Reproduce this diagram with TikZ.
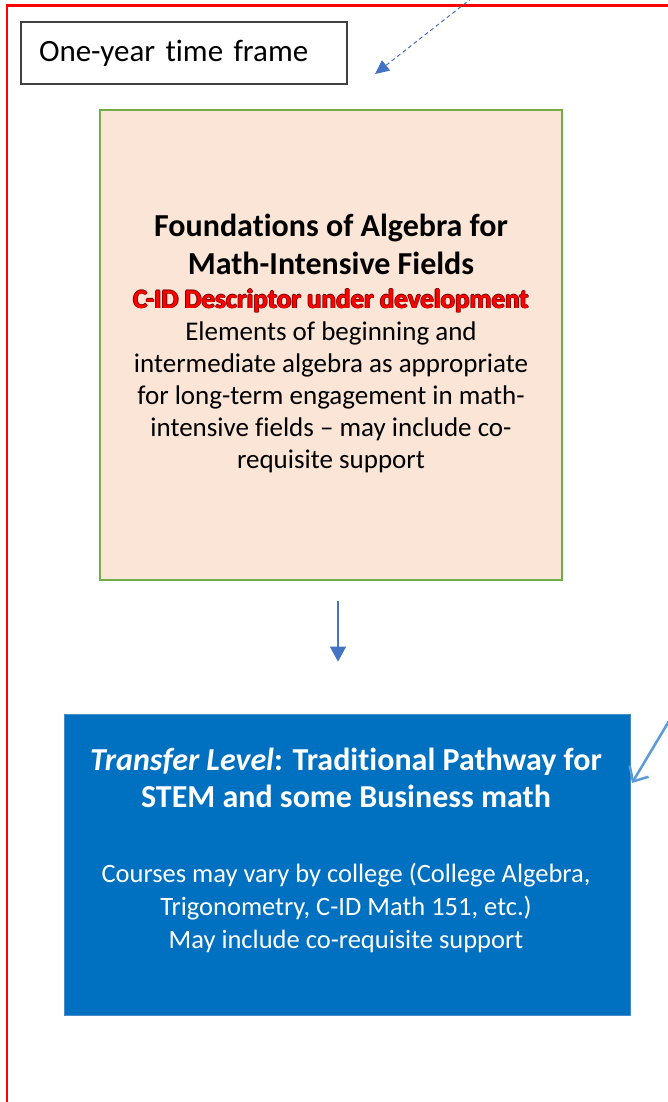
\documentclass[tikz,border=0pt]{standalone}
\usepackage{fontspec}
\setmainfont{Carlito}[Ligatures={NoCommon}]
\usetikzlibrary{arrows.meta}
\definecolor{peach}{HTML}{FBE5D6}
\definecolor{boxgreen}{HTML}{70AD47}
\definecolor{deepblue}{HTML}{0070C0}
\definecolor{arrblue}{HTML}{4472C4}
\definecolor{lightarr}{HTML}{5B9BD5}
\definecolor{glowc}{rgb}{0.45,0,0}
\definecolor{brdred}{HTML}{FF0000}
\newcommand\glowtext[1]{%
  \makebox[0pt][l]{\color{glowc}\hspace{0.8pt}#1}%
  \makebox[0pt][l]{\color{glowc}\hspace{-0.8pt}#1}%
  \makebox[0pt][l]{\color{glowc}\raisebox{0.8pt}{#1}}%
  \makebox[0pt][l]{\color{glowc}\raisebox{-0.8pt}{#1}}%
  {\color{red}#1}}
\tikzset{
  lbl/.style={draw={rgb,255:red,64;green,64;blue,64}, line width=1.3pt, minimum width=326pt, minimum height=62pt,
    text width=290pt, align=left, inner xsep=18pt, inner ysep=0pt, font=\fontsize{31}{37}\selectfont},
  fbox/.style={draw=boxgreen, fill=peach, line width=2pt, minimum width=462pt, minimum height=470pt},
  tlbox/.style={draw={rgb,255:red,70;green,140;blue,200}, fill=deepblue, line width=0.8pt, minimum width=566pt, minimum height=301pt},
  ftext/.style={align=center, inner sep=0pt, font=\fontsize{27}{32}\selectfont},
  ttext/.style={align=center, inner sep=0pt, text=white, font=\fontsize{26.5}{33}\selectfont},
  downarr/.style={draw=arrblue, line width=1.5pt, -{Triangle[length=15pt,width=16pt]}},
  dasharr/.style={draw=arrblue, line width=1pt, dash pattern=on 4pt off 3pt, -{Triangle[length=14pt,width=13pt]}},
  barbarr/.style={draw=lightarr, line width=2.5pt, -{Straight Barb[length=12pt,width=22pt]}},
}
\begin{document}
\begin{tikzpicture}[x=1pt,y=-1pt]
\useasboundingbox (0,0) rectangle (668,1102);
\begin{scope}
\clip (0,0) rectangle (668,1102);
\draw[brdred, line width=2.5pt] (7,1120) -- (7,5.5) -- (690,5.5);

\node[lbl] (tf) at (184,53) {One-year time frame};

\node[fbox] (fb) at (331,345) {};
\node[ftext] (fbt) at (331,343) {%
  {\fontsize{32}{38}\selectfont\bfseries Foundations of Algebra for}\\[6pt]
  {\fontsize{32}{38}\selectfont\bfseries Math-Intensive Fields}\\[2pt]
  {\fontsize{27}{32}\selectfont\bfseries\glowtext{C-ID Descriptor under development}}\\
  Elements of beginning and\\
  intermediate algebra as appropriate\\
  for long-term engagement in math-\\
  intensive fields -- may include co-\\
  requisite support};

\node[tlbox] (tl) at (347,864.5) {};
\node[ttext] (tlt) at (346,850) {%
  {\fontsize{32}{37}\selectfont\bfseries\itshape Transfer Level}{\fontsize{32}{37}\selectfont\bfseries: Traditional Pathway for}\\[4pt]
  {\fontsize{32}{37}\selectfont\bfseries STEM and some Business math}\\[42pt]
  Courses may vary by college (College Algebra,\\
  Trigonometry, C-ID Math 151, etc.)\\
  May include co-requisite support};

\draw[downarr, shorten <=20pt, shorten >=52pt] ([xshift=7pt]fb.south) -- ([xshift=7pt]fb.south |- tl.north);

\coordinate (d0) at (472,-2);
\coordinate (d1) at (375,74);
\draw[dasharr] (d0) -- (d1);

\coordinate (b0) at (672,716);
\coordinate (b1) at (632,783);
\draw[barbarr] (b0) -- (b1);
\end{scope}
\end{tikzpicture}
\end{document}
